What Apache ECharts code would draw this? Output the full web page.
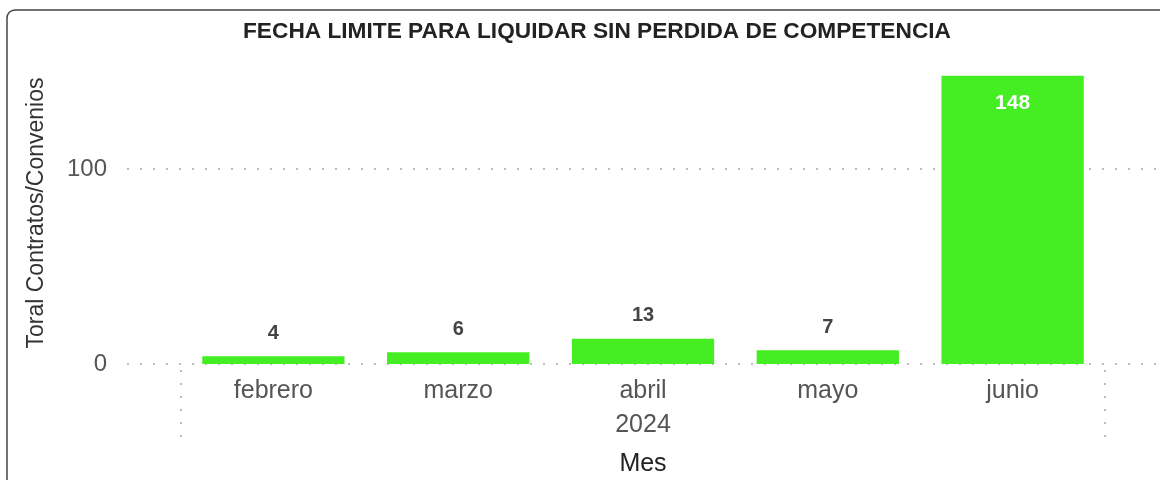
<!DOCTYPE html>
<html>
<head>
<meta charset="utf-8">
<script src="https://cdn.jsdelivr.net/npm/echarts@6/dist/echarts.min.js"></script>
<style>
  html, body { margin: 0; padding: 0; background: #fff; }
  #main { width: 1160px; height: 480px; }
</style>
</head>
<body>
<div id="main"></div>
<script>
// datos del grafico
var meses = ['febrero', 'marzo', 'abril', 'mayo', 'junio'];
var anios = ['2024'];
var totales = [4, 6, 13, 7, 148];

var font = '"Liberation Sans", Arial, sans-serif';
var verde = '#44EE22';

var myChart = echarts.init(document.getElementById('main'));

var option = {
  backgroundColor: '#fff',
  title: {
    text: 'FECHA LIMITE PARA LIQUIDAR SIN PERDIDA DE COMPETENCIA',
    left: 238,
    top: 15,
    textStyle: { fontFamily: font, fontSize: 22.7, fontWeight: 'bold', color: '#222' }
  },
  graphic: [{
    // marco del visual
    type: 'rect',
    shape: { x: 7, y: 10, width: 1200, height: 600, r: 8 },
    style: { fill: 'none', stroke: '#444', lineWidth: 1.5 },
    silent: true
  }],
  grid: [
    // grid ancho: solo lineas de cuadricula y etiquetas del eje Y
    { left: 127, right: 0, top: 62, bottom: 116, outerBoundsMode: 'none' },
    // grid de las barras
    { left: 181, right: 55, top: 62, bottom: 116, outerBoundsMode: 'none' }
  ],
  xAxis: [
    { gridIndex: 0, type: 'value', show: false, min: 0, max: 1 },
    {
      gridIndex: 1, type: 'category', data: meses,
      axisLine: { show: false }, axisTick: { show: false },
      axisLabel: { margin: 15, fontFamily: font, fontSize: 25, color: '#555' }
    },
    {
      gridIndex: 1, type: 'category', data: anios, position: 'bottom', offset: 6,
      axisLine: { show: false },
      axisTick: { show: true, length: 67, lineStyle: { color: '#bbb', width: 2, type: [2, 11] } },
      axisLabel: { margin: 43, fontFamily: font, fontSize: 25, color: '#555' },
      name: 'Mes', nameLocation: 'middle', nameGap: 82,
      nameTextStyle: { fontFamily: font, fontSize: 25, color: '#222' }
    }
  ],
  yAxis: [
    {
      gridIndex: 0, type: 'value', min: 0, max: 155, interval: 100,
      axisLine: { show: false }, axisTick: { show: false },
      axisLabel: { margin: 20, fontFamily: font, fontSize: 24, color: '#555', showMaxLabel: false },
      splitLine: { show: true, showMaxLine: false, lineStyle: { color: '#bbb', width: 2, type: [2, 11] } }
    },
    {
      gridIndex: 1, type: 'value', min: 0, max: 155,
      axisLine: { show: false }, axisTick: { show: false },
      axisLabel: { show: false }, splitLine: { show: false },
      name: 'Toral Contratos/Convenios', nameLocation: 'middle', nameGap: 133,
      nameTextStyle: { fontFamily: font, fontSize: 23, color: '#333' }
    }
  ],
  series: [{
    type: 'bar',
    xAxisIndex: 1,
    yAxisIndex: 1,
    barCategoryGap: '23%',
    itemStyle: { color: verde },
    label: {
      show: true, position: 'top', distance: 13,
      fontFamily: font, fontSize: 20, fontWeight: 'bold', color: '#444'
    },
    data: totales.map(function (v) {
      // el valor grande va dentro de la barra
      if (v > 100) {
        return { value: v, label: { position: 'insideTop', distance: 17, fontSize: 21, color: '#fff' } };
      }
      return v;
    })
  }]
};

myChart.setOption(option);
</script>
</body>
</html>
